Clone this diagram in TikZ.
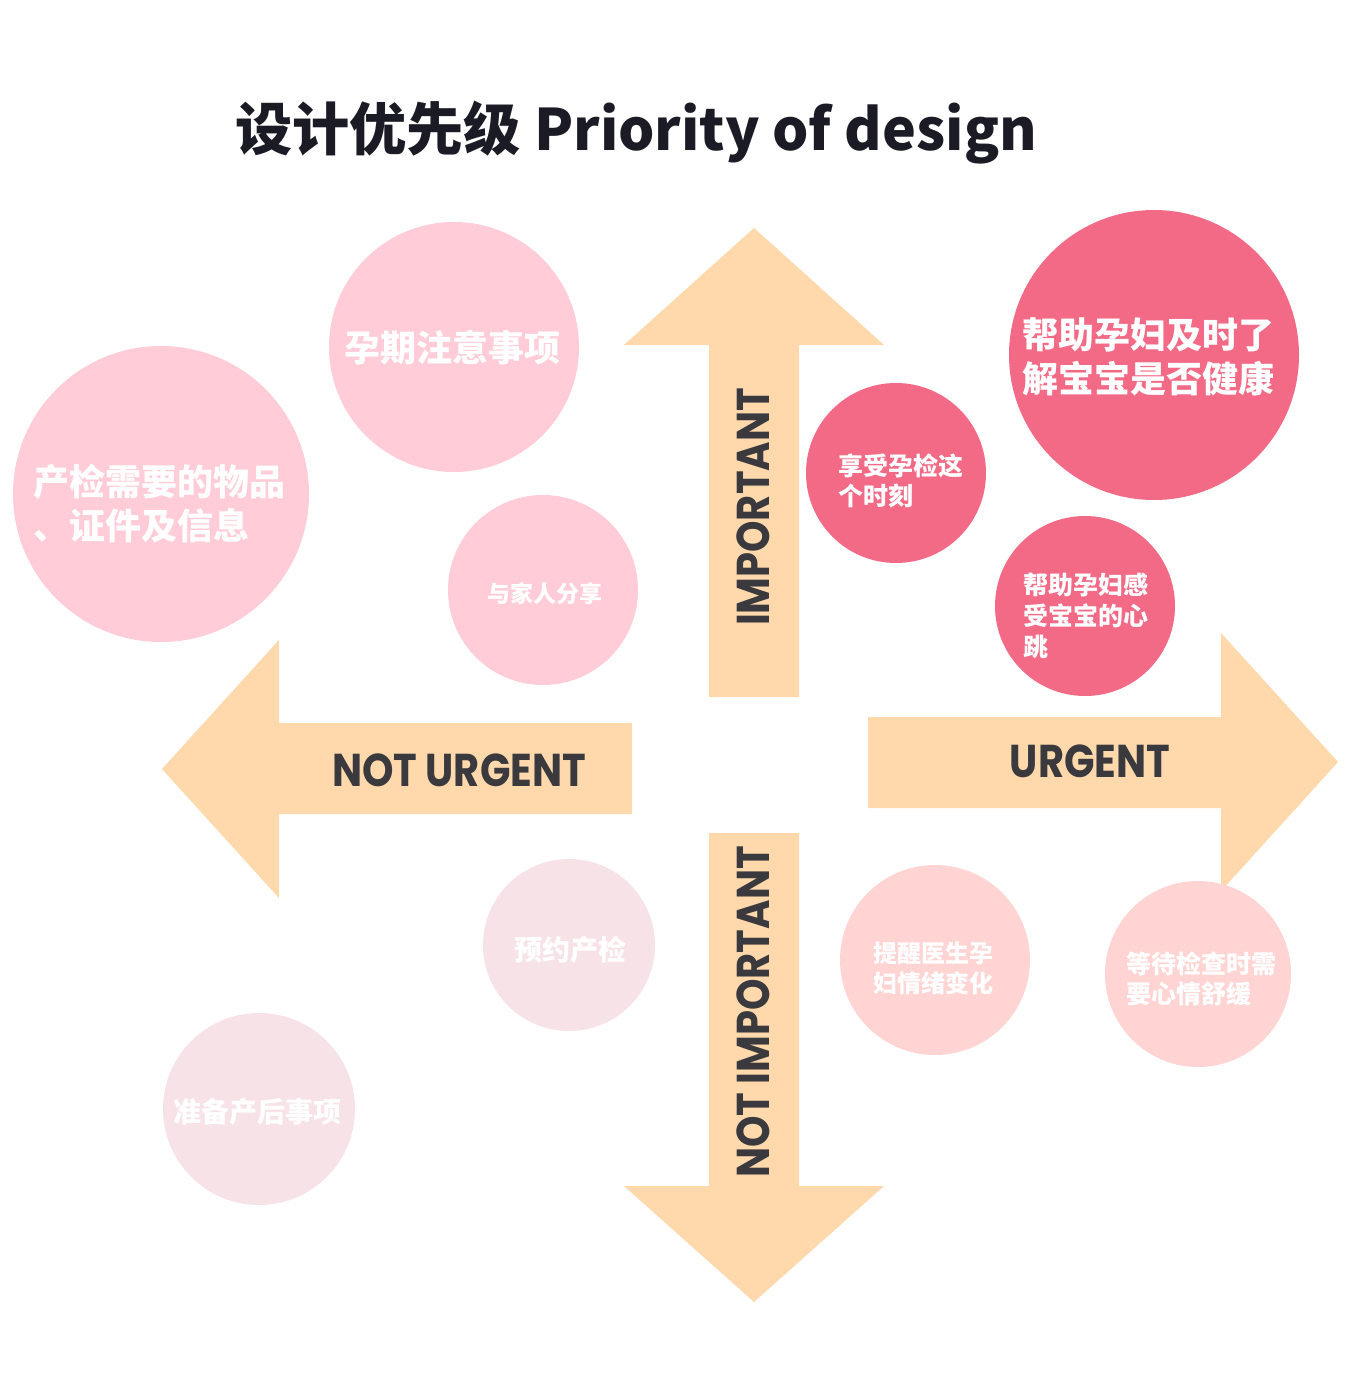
\documentclass[tikz,border=0pt]{standalone}
\usepackage{fontspec}
\newfontfamily\cjk{Noto Sans CJK SC}
\newfontfamily\popp{Poppins}[FakeStretch=0.87]
\definecolor{arrowc}{HTML}{FFD8AC}
\definecolor{darkp}{HTML}{F26A86}
\definecolor{lightp}{HTML}{FFCCD8}
\definecolor{palep}{HTML}{F7E2E7}
\definecolor{salmon}{HTML}{FFD4D2}
\definecolor{lbl}{HTML}{3A3A3E}
\definecolor{ttl}{HTML}{1B1B26}
\tikzset{
  bub/.style={circle, inner sep=0pt, minimum size=#1},
  ctext/.style={text=white, font=\cjk\bfseries, inner sep=0pt, align=left},
  albl/.style={text=lbl, inner sep=0pt, font=\popp\bfseries\fontsize{23}{26}\selectfont},
}
\begin{document}
\begin{tikzpicture}[x=0.5pt,y=-0.5pt]
\useasboundingbox[fill=white] (0,0) rectangle (1353,1398);
% title
\node[text=ttl, font=\cjk\bfseries\fontsize{28.6}{32}\selectfont, inner sep=0pt] (title) at (636,133) {设计优先级 Priority of design};
% arrows
\fill[arrowc] (709,697) -- (709,345) -- (624,345) -- (754,228) -- (884,345) -- (799,345) -- (799,697) -- cycle;
\fill[arrowc] (709,833) -- (709,1186) -- (624,1186) -- (754,1302) -- (884,1186) -- (799,1186) -- (799,833) -- cycle;
\fill[arrowc] (632,723) -- (279,723) -- (279,640) -- (162,769) -- (279,898) -- (279,814) -- (632,814) -- cycle;
\fill[arrowc] (868,717) -- (1221,717) -- (1221,633) -- (1338,762) -- (1221,891) -- (1221,808) -- (868,808) -- cycle;
\node[albl, rotate=90] (imp) at (753,507) {IMPORTANT};
\node[albl, rotate=90] (nimp) at (753,1012) {NOT IMPORTANT};
\node[albl] (nurg) at (459,770) {NOT URGENT};
\node[albl] (urg) at (1090,761) {URGENT};
% bubbles
\node[bub=125pt, fill=lightp] (c1) at (454,347) {};
\node[bub=148pt, fill=lightp] (c2) at (161,494) {};
\node[bub=95pt, fill=lightp] (c3) at (543,590) {};
\node[bub=90pt, fill=darkp] (c4) at (896,473) {};
\node[bub=145pt, fill=darkp] (c5) at (1154,355) {};
\node[bub=90pt, fill=darkp] (c6) at (1085,606) {};
\node[bub=86pt, fill=palep] (c7) at (569,945) {};
\node[bub=95pt, fill=salmon] (c8) at (935,960) {};
\node[bub=93pt, fill=salmon] (c9) at (1198,974) {};
\node[bub=96pt, fill=palep] (c10) at (259,1109) {};
% bubble texts
\node[ctext, font=\cjk\bfseries\fontsize{18}{22}\selectfont] (t1) at (452,348) {孕期注意事项};
\node[ctext, anchor=west, font=\cjk\bfseries\fontsize{18}{22}\selectfont] (t2) at (33,504) {产检需要的物品\\、证件及信息};
\node[ctext, font=\cjk\bfseries\fontsize{11.5}{15}\selectfont] (t3) at (545,594) {与家人分享};
\node[ctext, anchor=west, font=\cjk\bfseries\fontsize{12.5}{15}\selectfont] (t4) at (838,481) {享受孕检这\\个时刻};
\node[ctext, anchor=west, font=\cjk\bfseries\fontsize{18}{22}\selectfont] (t5) at (1022,357) {帮助孕妇及时了\\解宝宝是否健康};
\node[ctext, anchor=west, font=\cjk\bfseries\fontsize{12.5}{15.5}\selectfont] (t6) at (1023,616) {帮助孕妇感\\受宝宝的心\\跳};
\node[ctext, font=\cjk\bfseries\fontsize{14}{17}\selectfont] (t7) at (570,950) {预约产检};
\node[ctext, anchor=west, font=\cjk\bfseries\fontsize{12}{15}\selectfont] (t8) at (873,968) {提醒医生孕\\妇情绪变化};
\node[ctext, anchor=west, font=\cjk\bfseries\fontsize{12.5}{15}\selectfont] (t9) at (1126,979) {等待检查时需\\要心情舒缓};
\node[ctext, font=\cjk\bfseries\fontsize{14}{17}\selectfont] (t10) at (257,1112) {准备产后事项};
\end{tikzpicture}
\end{document}
